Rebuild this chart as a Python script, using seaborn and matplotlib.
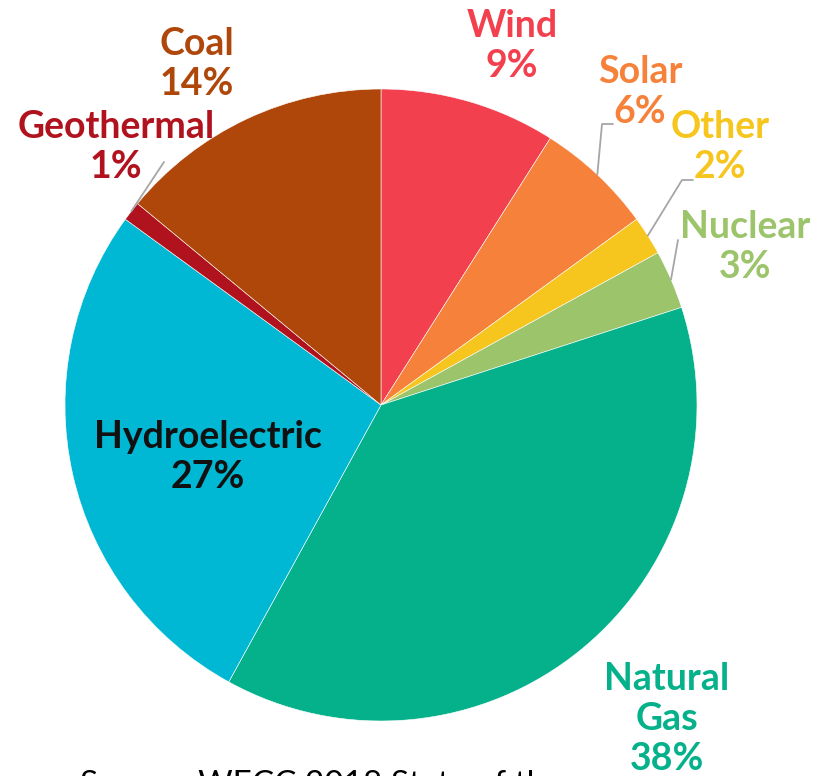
import numpy as np
import matplotlib
matplotlib.use("Agg")
import matplotlib.pyplot as plt
import seaborn as sns
from matplotlib.transforms import Bbox

sources = ['Wind', 'Solar', 'Other', 'Nuclear', 'Natural\nGas', 'Hydroelectric', 'Geothermal', 'Coal']
shares = [9, 6, 2, 3, 38, 27, 1, 14]
colors = ['#F2404F', '#F5813A', '#F6C51E', '#9CC46B', '#05B18A', '#00B8D4', '#B0121E', '#B0470A']
label_colors = ['#F2404F', '#F5813A', '#F6C51E', '#9CC46B', '#05B18A', '#111111', '#B0121E', '#B0470A']

sns.set_theme(style='white')
plt.rcParams['font.family'] = ['Lato', 'DejaVu Sans']

W, H = 824, 776
fig = plt.figure(figsize=(W / 100, H / 100), dpi=100)
cx, cy, R = 381, 405, 316
ax = fig.add_axes([(cx - R) / W, (H - cy - R) / H, 2 * R / W, 2 * R / H])

wedges, _ = ax.pie(shares, colors=colors, startangle=90, counterclock=False, radius=1,
                   wedgeprops=dict(edgecolor='white', linewidth=0.4))
ax.set_xlim(-1, 1)
ax.set_ylim(-1, 1)
ax.set_aspect('equal')
ax.axis('off')


def px(x, y):
    return (x - cx) / R, (cy - y) / R


# label positions (pixel coords: centre x, baseline of the last line)
label_pos = {
    'Wind': (512, 77), 'Solar': (640, 123), 'Other': (720, 178), 'Nuclear': (745, 278),
    'Natural\nGas': (667, 770), 'Hydroelectric': (208, 488), 'Geothermal': (116, 178), 'Coal': (197, 95),
}
for name, val, col in zip(sources, shares, label_colors):
    x, y = px(*label_pos[name])
    ax.text(x, y, f'{name}\n{val}%', color=col, fontsize=27, fontweight='bold',
            ha='center', va='baseline', linespacing=1.22, clip_on=False)

# leader lines from wedge edge
leaders = {
    'Solar': [(602, 124), (613, 124)],
    'Other': [(682, 180), (693, 180)],
    'Nuclear': [(678, 240)],
    'Geothermal': [(164, 162)],
}
for w, name in zip(wedges, sources):
    if name not in leaders:
        continue
    ang = np.deg2rad((w.theta1 + w.theta2) / 2)
    pts = [(np.cos(ang) * 1.0, np.sin(ang) * 1.0)] + [px(*p) for p in leaders[name]]
    xs, ys = zip(*pts)
    ax.plot(xs, ys, color='#A6A6A6', lw=1.3, clip_on=False, zorder=5)

src = fig.text(80 / W, 1 - 794 / H, 'Source: WECC 2018 State of the Interconnection',
               fontsize=24, color='black', ha='left', va='baseline')
src.set_clip_box(Bbox([[0, 0], [532, H]]))
src.set_clip_on(True)

fig.savefig('out.png', dpi=100)
